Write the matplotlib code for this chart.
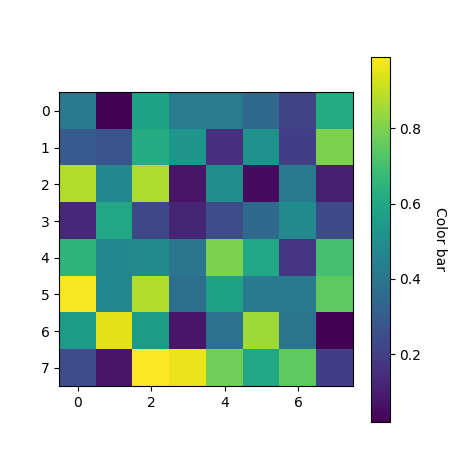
import numpy as np
import matplotlib
matplotlib.use("Agg")
import matplotlib.pyplot as plt

# values (rows 0..7)
row0 = [0.42, 0.02, 0.58, 0.43, 0.43, 0.35, 0.22, 0.62]
row1 = [0.30, 0.27, 0.62, 0.53, 0.15, 0.52, 0.20, 0.80]
row2 = [0.88, 0.47, 0.87, 0.07, 0.50, 0.05, 0.42, 0.10]
row3 = [0.13, 0.60, 0.23, 0.12, 0.25, 0.35, 0.48, 0.24]
row4 = [0.65, 0.47, 0.48, 0.40, 0.80, 0.60, 0.17, 0.70]
row5 = [0.98, 0.47, 0.88, 0.37, 0.58, 0.42, 0.42, 0.75]
row6 = [0.55, 0.95, 0.55, 0.08, 0.38, 0.85, 0.40, 0.02]
row7 = [0.25, 0.07, 0.99, 0.96, 0.78, 0.60, 0.75, 0.20]

data = np.array([row0, row1, row2, row3, row4, row5, row6, row7])

fig, ax = plt.subplots(figsize=(4.74, 4.74), dpi=100)
im = ax.imshow(data, cmap="viridis")

cbar = fig.colorbar(im, ax=ax)
cbar.ax.set_ylabel("Color bar", rotation=-90, va="bottom", labelpad=8)

fig.savefig("out.png")
